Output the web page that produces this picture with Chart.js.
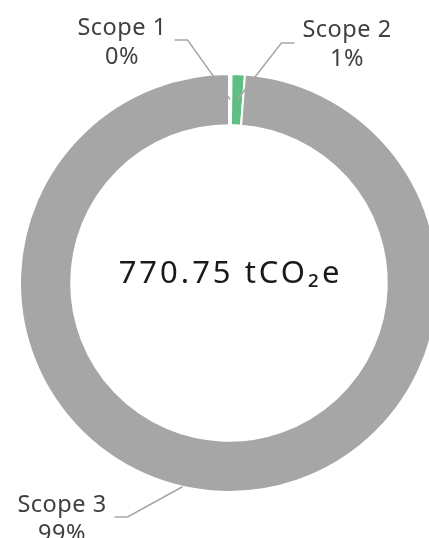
<!DOCTYPE html>
<html>
<head>
<meta charset="utf-8">
<script src="https://cdn.jsdelivr.net/npm/chart.js@4/dist/chart.umd.min.js"></script>
<style>
  html, body { margin: 0; padding: 0; background: #fff; overflow: hidden; }
  #wrap { position: absolute; left: 0; top: 0; width: 460px; height: 538px; }
</style>
</head>
<body>
<div id="wrap"><canvas id="scopeChart" width="460" height="538"></canvas></div>
<script>
//data
const categories = ['Scope 1', 'Scope 2', 'Scope 3']
const emissions = [1.5, 7.9, 761.35]
const percentLabels = ['0%', '1%', '99%']
const totalLabel = '770.75 tCO\u2082e'
const sliceColors = ['#ffffff', '#5fbf82', '#a6a6a6']

//where each label block sits, and where its leader line hits the ring
const labelSpots = [
    {x: 122, y: 35, side: 'right', lineY: 40, frac: 0.5, ring: 0.5},
    {x: 347, y: 37, side: 'left', lineY: 43, frac: 0.5, ring: 0.5},
    {x: 62, y: 512, side: 'right', lineY: 517, frac: 0.53, ring: 1}
]

const labelFont = '23.5px "Noto Sans", sans-serif'
const centerFont = '31px "Noto Sans", sans-serif'

//labels + center text
const scopeLabels = {
    id: 'scopeLabels',
    afterDraw(chart) {
        const ctx = chart.ctx
        const arcs = chart.getDatasetMeta(0).data
        ctx.save()

        arcs.forEach((arc, i) => {
            const spot = labelSpots[i]
            const a = arc.startAngle + (arc.endAngle - arc.startAngle) * spot.frac
            const r = arc.innerRadius + (arc.outerRadius - arc.innerRadius) * spot.ring
            const ax = arc.x + Math.cos(a) * r
            const ay = arc.y + Math.sin(a) * r

            ctx.font = labelFont
            ctx.letterSpacing = '0.5px'
            ctx.fillStyle = '#404040'
            ctx.textAlign = 'center'
            ctx.textBaseline = 'alphabetic'
            ctx.fillText(categories[i], spot.x, spot.y)
            ctx.fillText(percentLabels[i], spot.x, spot.y + 29)

            const w = ctx.measureText(categories[i]).width
            const dir = spot.side == 'right' ? 1 : -1
            const x0 = spot.x + dir * (w / 2 + 8)
            const x1 = x0 + dir * 13

            ctx.strokeStyle = '#a6a6a6'
            ctx.lineWidth = 1.5
            ctx.beginPath()
            ctx.moveTo(x0, spot.lineY)
            ctx.lineTo(x1, spot.lineY)
            ctx.lineTo(ax, ay)
            ctx.stroke()
        })

        const c = arcs[0]
        ctx.font = centerFont
        ctx.letterSpacing = '3px'
        ctx.fillStyle = '#1a1a1a'
        ctx.textAlign = 'center'
        ctx.textBaseline = 'alphabetic'
        ctx.fillText(totalLabel, c.x + 1.5, c.y)
        ctx.restore()
    }
}

//setup
const chartData = {
    labels: categories,
    datasets: [{
        data: emissions,
        backgroundColor: sliceColors,
        borderColor: '#ffffff',
        borderWidth: 2
    }]
}

//configure chart
const config = {
    type: 'doughnut',
    data: chartData,
    options: {
        responsive: false,
        animation: false,
        cutout: '75.5%',
        layout: {
            padding: {left: 19, right: 21, top: 73, bottom: 45}
        },
        plugins: {
            legend: {display: false},
            tooltip: {enabled: false}
        }
    },
    plugins: [scopeLabels]
}

//render chart
const scopeChart = new Chart(document.getElementById('scopeChart'), config)
</script>
</body>
</html>
